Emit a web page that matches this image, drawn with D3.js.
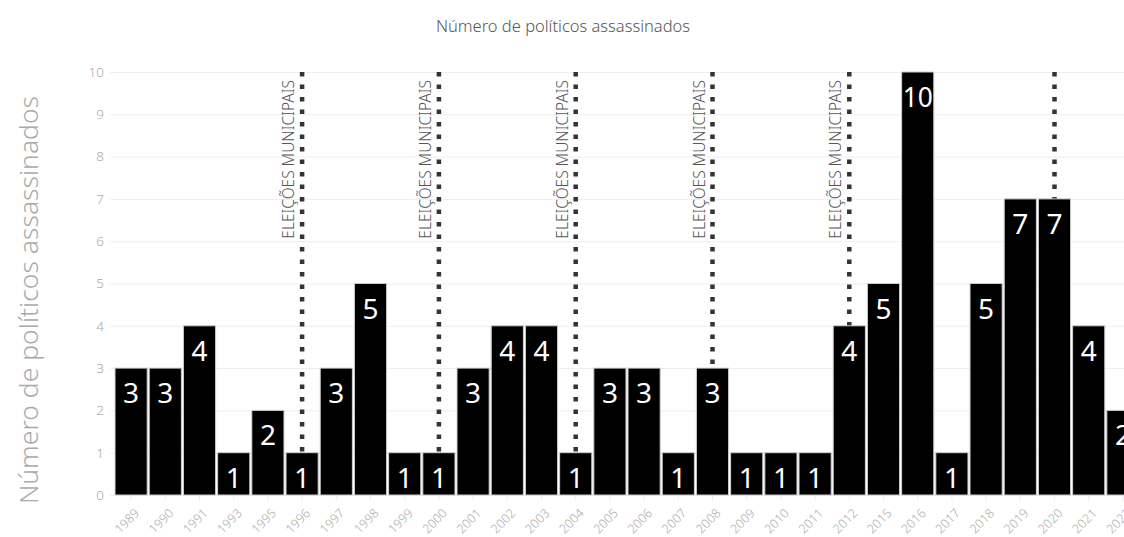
<html>
  <head>
    <meta charset="utf-8">
    <title>Número de políticos assassinados</title>
  </head>
<body style='margin: 0;padding: 0;background: white'>
  <div id="chart"></div>
  <script src="https://cdn.jsdelivr.net/npm/d3@7"></script>
  <script>

  // data
  var years = ['1989','1990','1991','1993','1995','1996','1997','1998','1999','2000',
               '2001','2002','2003','2004','2005','2006','2007','2008','2009','2010',
               '2011','2012','2015','2016','2017','2018','2019','2020','2021','2022']
  var killed = [3,3,4,1,2,1,3,5,1,1,
                3,4,4,1,3,3,1,3,1,1,
                1,4,5,10,1,5,7,7,4,2]
  var electionYears = ['1996','2000','2004','2008','2012','2020']
  var electionLabels = ['ELEIÇÕES MUNICIPAIS','ELEIÇÕES MUNICIPAIS','ELEIÇÕES MUNICIPAIS',
                        'ELEIÇÕES MUNICIPAIS','ELEIÇÕES MUNICIPAIS','']
  var yTicks = [0,1,2,3,4,5,6,7,8,9,10]

  var font = '"Noto Sans", "Open Sans", sans-serif'
  var tick_colour = '#aaaaaa'
  var grid_colour = '#eeeeee'

  var data = years.map((y,i) => ({year: y, value: killed[i]}))

  var canvas = d3.select('#chart').append('svg')
    .attr('width', 1124).attr('height', 537)
    .style('font-family', font)

  var x = d3.scaleBand().domain(years).range([114, 1140]).paddingInner(0.06).paddingOuter(0.03)
  var y = d3.scaleLinear().domain([0, 10]).range([495, 72])

  // title
  canvas.append('text')
    .text('Número de políticos assassinados')
    .attr('x', 563).attr('y', 32)
    .attr('text-anchor', 'middle')
    .attr('font-size', 16.5)
    .attr('font-weight', 300)
    .style('fill', '#555555')

  // y axis title
  canvas.append('text')
    .text('Número de políticos assassinados')
    .attr('transform', 'translate(38,300) rotate(-90)')
    .attr('text-anchor', 'middle')
    .attr('font-size', 26.5)
    .attr('font-weight', 300)
    .style('fill', '#aaaaaa')

  // grid + y ticks
  var yAxis = canvas.append('g')
    .attr('transform', 'translate(114,0)')
    .call(d3.axisLeft(y).tickValues(yTicks).tickSize(-1026).tickPadding(10).tickSizeOuter(0))
  yAxis.select('.domain').remove()
  yAxis.selectAll('.tick line').attr('x1', -4).style('stroke', grid_colour)
  yAxis.selectAll('.tick text').attr('font-size', 13.5).style('fill', tick_colour)
    .attr('font-family', font).attr('font-weight', 300)

  // x axis
  var xAxis = canvas.append('g')
    .attr('transform', 'translate(0,495)')
    .call(d3.axisBottom(x).tickSize(6).tickSizeOuter(0).tickPadding(4))
  xAxis.select('.domain').remove()
  xAxis.selectAll('.tick line').style('stroke', grid_colour)
  xAxis.selectAll('.tick text')
    .attr('font-size', 12.5).attr('font-family', font).attr('font-weight', 300)
    .style('fill', tick_colour)
    .attr('text-anchor', 'end')
    .attr('y', 0).attr('dy', null)
    .attr('transform', 'translate(9,19) rotate(-45)')

  // election lines (drawn under the bars)
  electionYears.forEach((e,i) => {
    var cx = x(e) + x.bandwidth()/2
    canvas.append('line')
      .attr('x1', cx).attr('x2', cx)
      .attr('y1', y(10)).attr('y2', y(0))
      .style('stroke', '#333333')
      .style('stroke-width', 4.5)
      .style('stroke-dasharray', '4.5,8')
    if (electionLabels[i] != '') {
      canvas.append('text')
        .text(electionLabels[i])
        .attr('transform', 'translate(' + (cx-8) + ',' + (y(10)+8) + ') rotate(-90)')
        .attr('text-anchor', 'end')
        .attr('font-size', 15.5)
        .attr('font-weight', 300)
        .style('fill', '#555555')
    }
  })

  // bars
  canvas.selectAll('.bar').data(data).enter()
    .append('rect')
    .attr('class', 'bar')
    .attr('x', d => x(d.year))
    .attr('y', d => y(d.value))
    .attr('width', x.bandwidth())
    .attr('height', d => y(0) - y(d.value))
    .style('fill', 'black')
    .style('stroke', '#cccccc')
    .style('stroke-width', 1)

  // value labels
  canvas.selectAll('.val').data(data).enter()
    .append('text')
    .attr('class', 'val')
    .text(d => d.value)
    .attr('x', d => x(d.year) + x.bandwidth()/2)
    .attr('y', d => y(d.value) + 35)
    .attr('text-anchor', 'middle')
    .attr('font-size', 28)
    .style('fill', 'white')
    .each(function() {
      var w = this.getComputedTextLength()
      if (w > x.bandwidth() - 2) {
        d3.select(this).attr('textLength', x.bandwidth() - 2).attr('lengthAdjust', 'spacingAndGlyphs')
      }
    })

  </script>
  </body>
</html>
